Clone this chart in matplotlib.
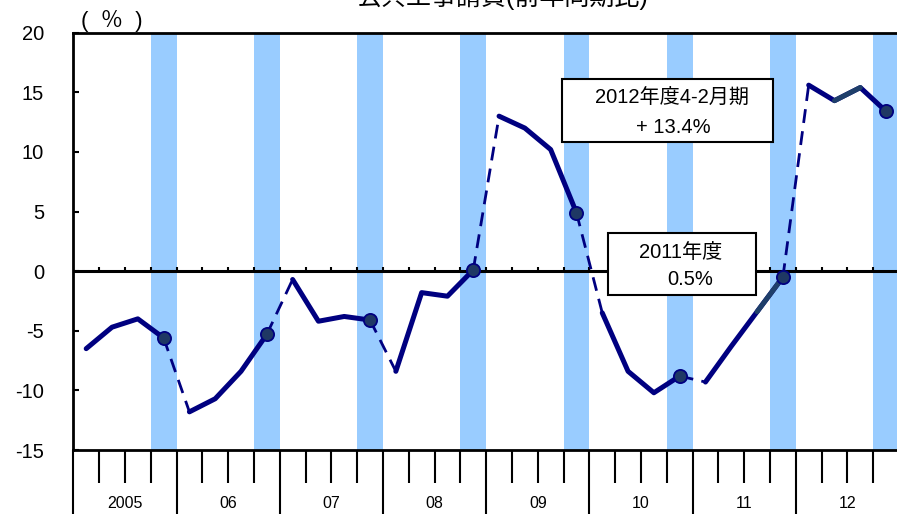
import matplotlib
matplotlib.use('Agg')
import matplotlib.pyplot as plt
from matplotlib.patches import Rectangle
import numpy as np

plt.rcParams['font.family'] = ['Liberation Sans', 'Noto Sans CJK JP']
plt.rcParams['axes.unicode_minus'] = False

# 年度ラベル
years = ['2005', '06', '07', '08', '09', '10', '11', '12']
# 四半期ごとの前年同期比（4-6, 7-9, 10-12, 1-3月期）
fy2005 = [-6.5, -4.7, -4.0, -5.6]
fy2006 = [-11.8, -10.7, -8.4, -5.3]
fy2007 = [-0.7, -4.2, -3.8, -4.1]
fy2008 = [-8.4, -1.8, -2.1, 0.1]
fy2009 = [13.0, 12.0, 10.2, 4.9]
fy2010 = [-3.5, -8.4, -10.2, -8.8]
fy2011 = [-9.3, -6.3, -3.4, -0.5]
fy2012 = [15.6, 14.3, 15.4, 13.4]
values = [fy2005, fy2006, fy2007, fy2008, fy2009, fy2010, fy2011, fy2012]

# 注記
note_2012 = ['2012年度4-2月期', '+ 13.4%']
note_2011 = ['2011年度', '0.5%']

navy = '#000080'
slate = '#1F3F6A'
slate_segments = [26, 29]  # この四半期から次の四半期への線だけ色違い

fig = plt.figure(figsize=(8.97, 5.14), dpi=100)
ax = fig.add_axes([73.3 / 897, 64 / 514, (899 - 73.3) / 897, (450 - 32.7) / 514])

n_q = 4 * len(years)

# 1-3月期の網掛け
for k in range(len(years)):
    ax.axvspan(4 * k + 3, 4 * k + 4, color='#99CCFF', lw=0, zorder=0)

# ゼロ線と目盛り
ax.axhline(0, color='black', lw=2.2, zorder=1.5)
ax.vlines(np.arange(1, n_q), 0, 0.38, color='black', lw=1.5, zorder=1.5)

# 年度ごとの折れ線と年度間の破線
for k, vals in enumerate(values):
    xs = 4 * k + np.arange(4) + 0.5
    ax.plot(xs, vals, color=navy, lw=3.6, solid_capstyle='round',
            solid_joinstyle='round', zorder=3)
    for s in slate_segments:
        if 4 * k <= s < 4 * k + 3:
            i = s - 4 * k
            ax.plot(xs[i:i + 2], vals[i:i + 2], color=slate, lw=3.6,
                    solid_capstyle='round', zorder=3.1)
    if k + 1 < len(values):
        ax.plot([xs[-1], xs[-1] + 1], [vals[-1], values[k + 1][0]],
                color=navy, lw=2.0, ls=(0, (5, 3)), zorder=2)
    ax.plot(xs[-1], vals[-1], 'o', ms=9.5, mfc='#1F3864', mec=navy,
            mew=1.3, zorder=5)

ax.set_xlim(0, n_q)
ax.set_ylim(-15, 20)

ax.set_yticks(range(-15, 21, 5))
ax.tick_params(axis='y', direction='in', length=4.5, width=1.5,
               labelsize=14.5, pad=21)

ax.set_xticks(range(0, n_q + 1, 4))
ax.set_xticklabels([])
minor = [q for q in range(n_q) if q % 4 != 0]
ax.set_xticks(minor, minor=True)
ax.set_xticklabels([years[q // 4] if q % 4 == 2 else '' for q in minor],
                   minor=True)
ax.tick_params(axis='x', which='major', direction='out', length=50, width=1.5)
ax.tick_params(axis='x', which='minor', direction='out', length=24, width=1.5,
               labelsize=11.5, pad=9)

for side in ['left', 'top', 'bottom']:
    ax.spines[side].set_linewidth(2)
ax.spines['right'].set_visible(False)

# 注記ボックス
ax.add_patch(Rectangle((18.94, 10.86), 27.12 - 18.94, 16.1 - 10.86,
                       facecolor='white', edgecolor='black', lw=1.5, zorder=6))
ax.text(23.19, 14.61, note_2012[0], ha='center', va='center', fontsize=14.5, zorder=7)
ax.text(23.26, 12.01, note_2012[1], ha='center', va='center', fontsize=14.5, zorder=7)

ax.add_patch(Rectangle((20.74, -2.0), 26.46 - 20.74, 3.18 + 2.0,
                       facecolor='white', edgecolor='black', lw=1.5, zorder=6))
ax.text(23.52, 1.53, note_2011[0], ha='center', va='center', fontsize=14.5, zorder=7)
ax.text(23.9, -0.74, note_2011[1], ha='center', va='center', fontsize=14.5, zorder=7)

fig.text(112 / 897, 1 - 21 / 514, '(  ％  )', ha='center', va='center', fontsize=16)
fig.text(503 / 897, 1 - 5.3 / 514, '公共工事請負(前年同期比)', ha='center',
         va='baseline', fontsize=18)

fig.savefig('out.png', dpi=100)
